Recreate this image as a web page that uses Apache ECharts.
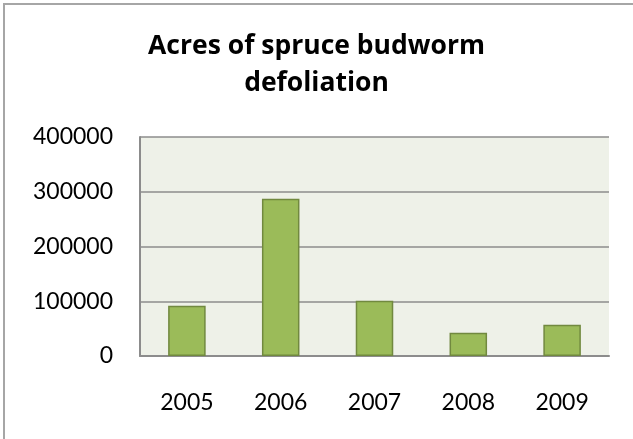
<!DOCTYPE html>
<html>
<head>
<meta charset="utf-8">
<script src="https://cdn.jsdelivr.net/npm/echarts@6/dist/echarts.min.js"></script>
<style>
  html, body { margin: 0; padding: 0; background: #fff; }
  #chart { width: 633px; height: 439px; }
</style>
</head>
<body>
<div id="chart"></div>
<script>
// Spruce budworm defoliation by year
const years = ['2005', '2006', '2007', '2008', '2009'];
const acres = [92000, 287000, 101000, 42500, 57000];
const yTicks = [0, 100000, 200000, 300000, 400000];

const chart = echarts.init(document.getElementById('chart'));
const font = 'Lato, "Open Sans", sans-serif';

chart.setOption({
  animation: false,
  backgroundColor: '#ffffff',
  title: {
    text: 'Acres of spruce budworm\ndefoliation',
    left: 'center',
    top: 23,
    textStyle: {
      fontFamily: '"Open Sans", Lato, sans-serif',
      fontWeight: 'bold',
      fontSize: 26.5,
      lineHeight: 37,
      color: '#000000'
    }
  },
  graphic: [{
    type: 'rect',
    shape: { x: 4, y: 4, width: 700, height: 500 },
    style: { fill: 'none', stroke: '#a6a6a6', lineWidth: 2 },
    silent: true
  }],
  grid: {
    left: 140, right: 24, top: 137, bottom: 83,
    show: true,
    backgroundColor: '#eef1e8',
    borderWidth: 0
  },
  xAxis: {
    type: 'category',
    data: years,
    axisLine: { show: true, lineStyle: { color: '#8c8c8c', width: 2 } },
    axisTick: { show: false },
    axisLabel: {
      fontFamily: font, fontSize: 23, color: '#000', margin: 35
    }
  },
  yAxis: {
    type: 'value',
    min: yTicks[0],
    max: yTicks[yTicks.length - 1],
    interval: 100000,
    axisLine: { show: true, lineStyle: { color: '#8c8c8c', width: 2 } },
    axisTick: { show: false },
    splitLine: { lineStyle: { color: '#8c8c8c', width: 1.5 } },
    axisLabel: {
      fontFamily: font, fontSize: 23, color: '#000', margin: 27,
      formatter: (v) => String(v)
    }
  },
  series: [{
    type: 'bar',
    data: acres,
    barWidth: '40%',
    itemStyle: {
      color: '#9bbb59',
      borderColor: '#71893f',
      borderWidth: 1.5
    }
  }]
});
</script>
</body>
</html>
